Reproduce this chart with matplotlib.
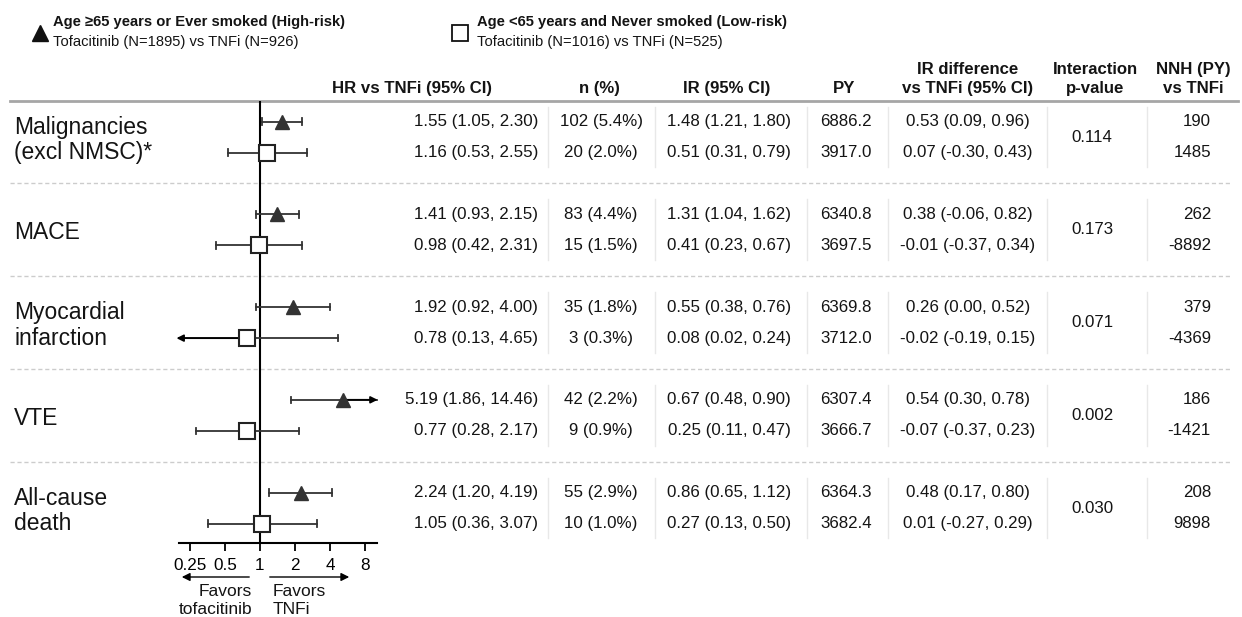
import numpy as np
import matplotlib.pyplot as plt

plt.rcParams['font.family'] = ['Liberation Sans', 'DejaVu Sans']

outcomes = ['Malignancies\n(excl NMSC)*', 'MACE', 'Myocardial\ninfarction', 'VTE', 'All-cause\ndeath']

# high-risk: age >=65 or ever smoked
hr_high = [1.55, 1.41, 1.92, 5.19, 2.24]
lo_high = [1.05, 0.93, 0.92, 1.86, 1.20]
up_high = [2.30, 2.15, 4.00, 14.46, 4.19]
n_high = ['102 (5.4%)', '83 (4.4%)', '35 (1.8%)', '42 (2.2%)', '55 (2.9%)']
ir_high = ['1.48 (1.21, 1.80)', '1.31 (1.04, 1.62)', '0.55 (0.38, 0.76)',
           '0.67 (0.48, 0.90)', '0.86 (0.65, 1.12)']
py_high = [6886.2, 6340.8, 6369.8, 6307.4, 6364.3]
ird_high = ['0.53 (0.09, 0.96)', '0.38 (-0.06, 0.82)', '0.26 (0.00, 0.52)',
            '0.54 (0.30, 0.78)', '0.48 (0.17, 0.80)']
nnh_high = [190, 262, 379, 186, 208]

# low-risk: age <65 and never smoked
hr_low = [1.16, 0.98, 0.78, 0.77, 1.05]
lo_low = [0.53, 0.42, 0.13, 0.28, 0.36]
up_low = [2.55, 2.31, 4.65, 2.17, 3.07]
n_low = ['20 (2.0%)', '15 (1.5%)', '3 (0.3%)', '9 (0.9%)', '10 (1.0%)']
ir_low = ['0.51 (0.31, 0.79)', '0.41 (0.23, 0.67)', '0.08 (0.02, 0.24)',
          '0.25 (0.11, 0.47)', '0.27 (0.13, 0.50)']
py_low = [3917.0, 3697.5, 3712.0, 3666.7, 3682.4]
ird_low = ['0.07 (-0.30, 0.43)', '-0.01 (-0.37, 0.34)', '-0.02 (-0.19, 0.15)',
           '-0.07 (-0.37, 0.23)', '0.01 (-0.27, 0.29)']
nnh_low = [1485, -8892, -4369, -1421, 9898]

p_int = ['0.114', '0.173', '0.071', '0.002', '0.030']

ticks = [0.25, 0.5, 1, 2, 4, 8]
tick_labels = ['0.25', '0.5', '1', '2', '4', '8']

W, H = 1242, 617
Y0, GROUP = 90.5, 92.75   # pixel of group 0 top, pixels per group


def u(py):
    return (py - Y0) / GROUP


txt = '#141414'
line_c = '#333333'
fs = 12.2

fig = plt.figure(figsize=(W / 100, H / 100), dpi=100)
ax = fig.add_axes([0, 0, 1, 1])
ax.set_xlim(0, W)
ax.set_ylim(u(H), u(0))
ax.axis('off')

# legend
ax.plot(40, u(33), marker='^', ms=11, color='#111111', ls='none')
ax.plot(460, u(33), marker='s', ms=11, mfc='white', mec='#111111', mew=1.3, ls='none')
ax.text(53, u(22), 'Age \u226565 years or Ever smoked (High-risk)', fontsize=10.6, fontweight='bold',
        va='center', color=txt)
ax.text(53, u(42), 'Tofacitinib (N=1895) vs TNFi (N=926)', fontsize=10.6, va='center', color=txt)
ax.text(477, u(22), 'Age <65 years and Never smoked (Low-risk)', fontsize=10.6, fontweight='bold',
        va='center', color=txt)
ax.text(477, u(42), 'Tofacitinib (N=1016) vs TNFi (N=525)', fontsize=10.6, va='center', color=txt)

# column headers
hdr = dict(fontsize=12.1, fontweight='bold', color=txt, va='bottom', ha='center', linespacing=1.3)
ax.text(412, u(96), 'HR vs TNFi (95% CI)', **hdr)
ax.text(599, u(96), 'n (%)', **hdr)
ax.text(727, u(96), 'IR (95% CI)', **hdr)
ax.text(844, u(96), 'PY', **hdr)
ax.text(968, u(96), 'IR difference\nvs TNFi (95% CI)', **hdr)
ax.text(1095, u(96), 'Interaction\np-value', **hdr)
ax.text(1193, u(96), 'NNH (PY)\nvs TNFi', **hdr)
ax.plot([10, 1238], [u(101), u(101)], color='#a6a6a6', lw=2)

n = len(outcomes)
y_high = np.arange(n) + 0.335
y_low = np.arange(n) + 0.67
y_mid = (y_high + y_low) / 2

# dashed group separators
for g in range(1, n):
    ax.plot([10, 1232], [g, g], color='#cccccc', lw=1, ls=(0, (3, 2)))

# faint column dividers inside each group
for g in range(n):
    for xc in [548, 655, 807, 888, 1047, 1147]:
        ax.plot([xc, xc], [y_high[g] - 0.16, y_low[g] + 0.16], color='#e8e8e8', lw=1)

for g in range(n):
    ax.text(14, y_mid[g] + 0.03, outcomes[g], fontsize=16.5, va='center', ha='left',
            color=txt, linespacing=1.15)
    for y, hr, lo, up, nn, ir, py, ird, nnh in [
            (y_high[g], hr_high[g], lo_high[g], up_high[g], n_high[g], ir_high[g],
             py_high[g], ird_high[g], nnh_high[g]),
            (y_low[g], hr_low[g], lo_low[g], up_low[g], n_low[g], ir_low[g],
             py_low[g], ird_low[g], nnh_low[g])]:
        ax.text(538, y, f'{hr:.2f} ({lo:.2f}, {up:.2f})', fontsize=fs, ha='right', va='center', color=txt)
        ax.text(601, y, nn, fontsize=fs, ha='center', va='center', color=txt)
        ax.text(729, y, ir, fontsize=fs, ha='center', va='center', color=txt)
        ax.text(846, y, f'{py:.1f}', fontsize=fs, ha='center', va='center', color=txt)
        ax.text(968, y, ird, fontsize=fs, ha='center', va='center', color=txt)
        ax.text(1211, y, str(nnh), fontsize=fs, ha='right', va='center', color=txt)
    ax.text(1092, y_mid[g], p_int[g], fontsize=fs, ha='center', va='center', color=txt)

# favors arrows under the forest axis
ax.annotate('', xy=(179, u(577)), xytext=(252, u(577)),
            arrowprops=dict(arrowstyle='-|>', color='black', lw=1, mutation_scale=12))
ax.annotate('', xy=(352, u(577)), xytext=(267, u(577)),
            arrowprops=dict(arrowstyle='-|>', color='black', lw=1, mutation_scale=12))
ax.text(252, u(591), 'Favors', fontsize=12.5, ha='right', va='center', color=txt)
ax.text(252, u(610), 'tofacitinib', fontsize=12.5, ha='right', va='center', color=txt)
ax.text(273, u(591), 'Favors', fontsize=12.5, ha='left', va='center', color=txt)
ax.text(273, u(610), 'TNFi', fontsize=12.5, ha='left', va='center', color=txt)

# forest plot
fx0, fx1, fy_top, fy_bot = 179, 377, 101, 543
fa = fig.add_axes([fx0 / W, 1 - fy_bot / H, (fx1 - fx0) / W, (fy_bot - fy_top) / H])
fa.patch.set_alpha(0)
fa.set_xscale('log', base=2)
xmin, xmax = 2 ** (-81 / 35), 2 ** (117 / 35)
fa.set_xlim(xmin, xmax)
fa.set_ylim(u(fy_bot), u(fy_top))
for s in ['top', 'left', 'right']:
    fa.spines[s].set_visible(False)
fa.spines['bottom'].set_linewidth(1.5)
fa.set_yticks([])
fa.set_xticks(ticks)
fa.set_xticklabels(tick_labels)
fa.minorticks_off()
fa.tick_params(axis='x', length=6, width=1.3, labelsize=12.3, pad=5, colors='black')
fa.axvline(1, color='black', lw=1.5, zorder=1)


def draw_ci(y, est, lo, up):
    left, right = max(lo, xmin), min(up, xmax)
    fa.plot([left, right], [y, y], color=line_c, lw=1.3, zorder=2, clip_on=False)
    if lo >= xmin:
        fa.plot([lo, lo], [y - 0.035, y + 0.035], color=line_c, lw=1.3, zorder=2)
    else:
        fa.annotate('', xy=(xmin * 0.9, y), xytext=(est, y), annotation_clip=False,
                    arrowprops=dict(arrowstyle='-|>', color='black', lw=1.3, mutation_scale=10))
    if up <= xmax:
        fa.plot([up, up], [y - 0.035, y + 0.035], color=line_c, lw=1.3, zorder=2)
    else:
        fa.annotate('', xy=(xmax * 1.07, y), xytext=(est, y), annotation_clip=False,
                    arrowprops=dict(arrowstyle='-|>', color='black', lw=1.3, mutation_scale=10))


for g in range(n):
    draw_ci(y_high[g], hr_high[g], lo_high[g], up_high[g])
    draw_ci(y_low[g], hr_low[g], lo_low[g], up_low[g])

fa.plot(hr_high, y_high, ls='none', marker='^', ms=9.5, color='#333333', zorder=3)
fa.plot(hr_low, y_low, ls='none', marker='s', ms=11, mfc='white', mec='#222222', mew=1.5, zorder=3)

fig.savefig('out.png', dpi=100)
